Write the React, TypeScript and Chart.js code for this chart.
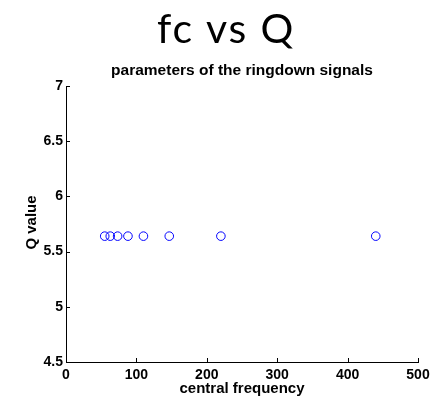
import React, { useEffect, useRef } from "react";
import { Chart, registerables } from "chart.js";

Chart.register(...registerables);

const frequencies = [55, 62.86, 73.33, 88, 110, 146.67, 220, 440];
const qValues = [5.64, 5.64, 5.64, 5.64, 5.64, 5.64, 5.64, 5.64];
const xTicks = [0, 100, 200, 300, 400, 500];
const yTicks = [4.5, 5, 5.5, 6, 6.5, 7];
const mainTitle = "fc vs Q";
const subTitle = "parameters of the ringdown signals";
const xLabel = "central frequency";
const yLabel = "Q value";

const W = 435;
const H = 396;
const SANS = "'Liberation Sans', Arial, Helvetica, sans-serif";

const decorPlugin = {
  id: "decor",
  afterDraw(chart: any) {
    const { ctx, chartArea, scales } = chart;
    const { left, bottom } = chartArea;
    ctx.save();
    // inward ticks
    ctx.strokeStyle = "#000";
    ctx.lineWidth = 1;
    ctx.beginPath();
    xTicks.forEach((v) => {
      const px = Math.round(scales.x.getPixelForValue(v)) + 0.5;
      ctx.moveTo(px, bottom);
      ctx.lineTo(px, bottom - 4);
    });
    yTicks.forEach((v) => {
      const py = Math.round(scales.y.getPixelForValue(v)) + 0.5;
      ctx.moveTo(left, py);
      ctx.lineTo(left + 4, py);
    });
    ctx.stroke();

    ctx.fillStyle = "#000";
    // main title
    ctx.font = "400 41px Lato, 'Open Sans', sans-serif";
    try {
      (ctx as any).letterSpacing = "1.8px";
    } catch (e) {}
    ctx.textAlign = "center";
    ctx.textBaseline = "alphabetic";
    ctx.fillText(mainTitle, 226, 43);
    try {
      (ctx as any).letterSpacing = "0px";
    } catch (e) {}
    // subtitle
    const cx = (chartArea.left + chartArea.right) / 2;
    ctx.font = `bold 15.5px ${SANS}`;
    ctx.fillText(subTitle, cx, 75);
    // x label
    ctx.font = `bold 15px ${SANS}`;
    ctx.fillText(xLabel, cx, 393);
    // y label
    ctx.translate(35.5, 222.5);
    ctx.rotate(-Math.PI / 2);
    ctx.fillText(yLabel, 0, 0);
    ctx.restore();
  },
};

export default function App() {
  const ref = useRef<HTMLCanvasElement | null>(null);

  useEffect(() => {
    if (!ref.current) return;
    const chart = new Chart(ref.current, {
      type: "scatter",
      data: {
        datasets: [
          {
            data: frequencies.map((f, i) => ({ x: f, y: qValues[i] })),
            borderColor: "rgb(0,0,255)",
            backgroundColor: "rgba(0,0,0,0)",
            pointRadius: 4.3,
            pointBorderWidth: 1,
            pointStyle: "circle",
          },
        ],
      },
      options: {
        animation: false,
        responsive: false,
        devicePixelRatio: 1,
        layout: { padding: { top: 86, right: 17, left: 0, bottom: 0 } },
        plugins: {
          legend: { display: false },
          tooltip: { enabled: false },
          title: { display: false },
        },
        scales: {
          x: {
            type: "linear",
            min: 0,
            max: 500,
            afterBuildTicks: (s: any) => {
              s.ticks = xTicks.map((v) => ({ value: v }));
            },
            afterFit: (s: any) => {
              s.height = 34;
            },
            grid: { display: false, drawTicks: false },
            border: { display: true, color: "#000", width: 1 },
            ticks: {
              color: "#000",
              padding: 5,
              maxRotation: 0,
              callback: (v: any) => String(v),
              font: { family: SANS, size: 14, weight: "bold" },
            },
          },
          y: {
            type: "linear",
            min: 4.5,
            max: 7,
            afterBuildTicks: (s: any) => {
              s.ticks = yTicks.map((v) => ({ value: v }));
            },
            afterFit: (s: any) => {
              s.width = 66;
            },
            grid: { display: false, drawTicks: false },
            border: { display: true, color: "#000", width: 1 },
            ticks: {
              color: "#000",
              padding: 3,
              callback: (v: any) => String(v),
              font: { family: SANS, size: 14, weight: "bold" },
            },
          },
        },
      },
      plugins: [decorPlugin],
    });
    return () => chart.destroy();
  }, []);

  return (
    <div style={{ position: "absolute", left: 0, top: 0, width: W, height: H, background: "#fff" }}>
      <canvas ref={ref} width={W} height={H} style={{ width: W, height: H, display: "block" }} />
    </div>
  );
}
